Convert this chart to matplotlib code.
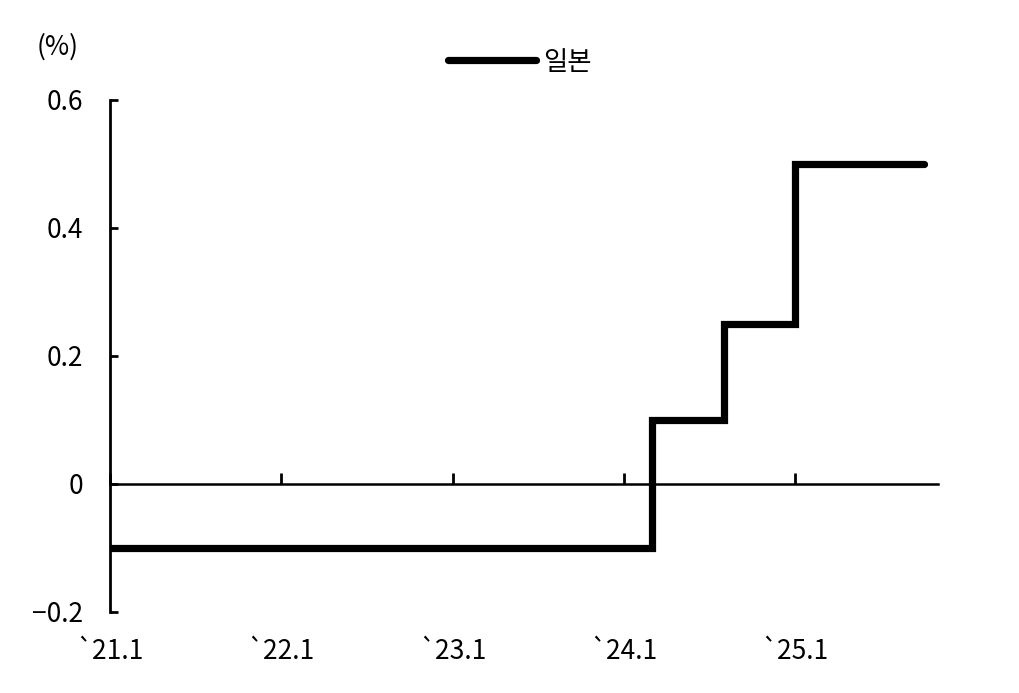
import numpy as np
import matplotlib
matplotlib.use("Agg")
import matplotlib.pyplot as plt

plt.rcParams['font.family'] = ['Noto Sans CJK KR', 'DejaVu Sans']

# Japan policy rate (change points, held until next)
months = ["2021-01", "2024-03", "2024-08", "2025-01", "2025-10"]
rate = [-0.1, 0.1, 0.25, 0.5, 0.5]
tick_months = ["2021-01", "2022-01", "2023-01", "2024-01", "2025-01"]
tick_labels = ["`21.1", "`22.1", "`23.1", "`24.1", "`25.1"]
series_name = "일본"

def midx(s):
    y, m = s.split("-")
    return (int(y) - 2021) * 12 + int(m) - 1

x = np.array([midx(m) for m in months])
xt = [midx(m) for m in tick_months]

fs = 19

fig = plt.figure(figsize=(10.2, 6.93), dpi=100)
ax = fig.add_axes([0.1078, 0.1169, 0.9196 - 0.1078, 0.8557 - 0.1169])

ax.step(x, rate, where="post", color="black", lw=5.2,
        solid_capstyle="round", solid_joinstyle="miter", label=series_name,
        zorder=3)

ax.set_xlim(0, 58)
ax.set_ylim(-0.2, 0.6)
ax.set_yticks([-0.2, 0, 0.2, 0.4, 0.6])
ax.set_yticklabels(["\u22120.2", "0", "0.2", "0.4", "0.6"])
ax.set_xticks(xt)
ax.set_xticklabels(tick_labels)

for s in ["top", "right", "bottom"]:
    ax.spines[s].set_visible(False)
ax.spines["left"].set_linewidth(2)
ax.tick_params(axis="y", direction="in", length=6, width=2, pad=19,
               labelsize=fs)
ax.tick_params(axis="x", length=0, pad=19, labelsize=fs)

# zero line with upward ticks
sec = ax.secondary_xaxis(0, transform=ax.transData)
sec.set_xticks(xt)
sec.tick_params(axis="x", direction="in", length=8, width=2,
                labelbottom=False)
sec.spines["bottom"].set_linewidth(1.8)

fig.text(0.036, 0.932, "(%)", fontsize=fs, ha="left", va="center")

fig.legend(loc="center", bbox_to_anchor=(0.51, 0.9105), frameon=False,
           fontsize=fs, handlelength=3.3, handletextpad=0.3)

fig.savefig("out.png", dpi=100)
